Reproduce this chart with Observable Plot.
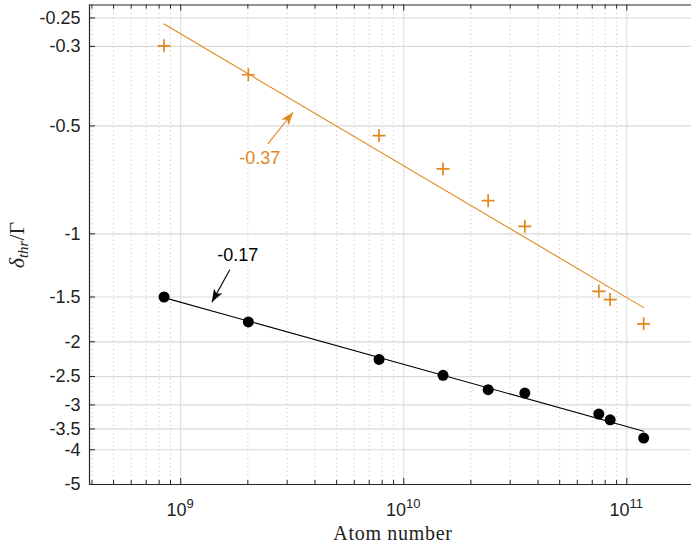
<!DOCTYPE html>
<html><head><meta charset="utf-8">
<script src="https://cdn.jsdelivr.net/npm/d3@7"></script>
<script src="https://cdn.jsdelivr.net/npm/@observablehq/plot@0.6"></script>
<style>body{margin:0;background:#fff} #chart svg{display:block}</style>
</head><body><div id="chart"></div>
<script>
// ---- data ----
const atomNumber   = [8.42e8, 2.01e9, 7.75e9, 1.50e10, 2.39e10, 3.49e10, 7.49e10, 8.42e10, 1.19e11];
const deltaCircles = [-1.50, -1.76, -2.24, -2.48, -2.72, -2.78, -3.18, -3.30, -3.71];
const deltaCrosses = [-0.299, -0.360, -0.532, -0.659, -0.808, -0.953, -1.446, -1.525, -1.782];
const fitAtomNumber = [8.42e8, 1.19e11];
const fitCircles    = [-1.506, -3.55];
const fitCrosses    = [-0.260, -1.606];
const yTickValues = [-0.25, -0.3, -0.5, -1, -1.5, -2, -2.5, -3, -3.5, -4, -5];
const xMajorTicks = [1e9, 1e10, 1e11];
const xExponents  = ["9", "10", "11"];
const xMinorTicks = [4e8,5e8,6e8,7e8,8e8,9e8, 2e9,3e9,4e9,5e9,6e9,7e9,8e9,9e9, 2e10,3e10,4e10,5e10,6e10,7e10,8e10,9e10];
const slopeLabels = ["-0.37", "-0.17"];
const labelX  = [2.26e9, 1.80e9];
const labelY  = [-0.617, -1.15];
const arrowX1 = [2.46e9, 1.66e9];
const arrowY1 = [-0.561, -1.26];
const arrowX2 = [3.19e9, 1.38e9];
const arrowY2 = [-0.458, -1.55];
const xDomain = [3.9e8, 1.95e11];
const yDomain = [-5, -0.23];

// ---- styling ----
const ORANGE = "#e1871d";
const AXIS = "#262626";
const W = 691, H = 548, mL = 89, mT = 4.5, mB = 64, mR = 0;
const innerH = H - mT - mB, innerW = W - mL - mR;

const circles = atomNumber.map((x, i) => ({x, y: deltaCircles[i]}));
const crosses = atomNumber.map((x, i) => ({x, y: deltaCrosses[i]}));
const fitC = fitAtomNumber.map((x, i) => ({x, y: fitCircles[i]}));
const fitX = fitAtomNumber.map((x, i) => ({x, y: fitCrosses[i]}));
const annots = slopeLabels.map((t, i) => ({t, x: labelX[i], y: labelY[i], x1: arrowX1[i], y1: arrowY1[i], x2: arrowX2[i], y2: arrowY2[i]}));

const plusSym = {draw(ctx, size) { const r = Math.sqrt(size / Math.PI); ctx.moveTo(-r, 0); ctx.lineTo(r, 0); ctx.moveTo(0, -r); ctx.lineTo(0, r); }};
function filledArrow(color) {
  return d3.create("svg:marker")
    .attr("viewBox", "-13 -5 13 10").attr("markerWidth", 13).attr("markerHeight", 10)
    .attr("markerUnits", "userSpaceOnUse").attr("refX", 0).attr("refY", 0).attr("orient", "auto")
    .call(m => m.append("path").attr("d", "M0,0L-13,-4.8L-9.5,0L-13,4.8Z").attr("fill", color).attr("stroke", "none"))
    .node();
}

const chart = Plot.plot({
  width: W, height: H, marginLeft: mL, marginTop: mT, marginBottom: mB, marginRight: mR,
  style: {fontFamily: "Liberation Sans, Arial, sans-serif", fontSize: "18px", background: "#fff"},
  x: {type: "log", domain: xDomain, axis: null},
  y: {type: "log", domain: yDomain, axis: null},
  marks: [
    Plot.ruleX(xMinorTicks, {stroke: "#c8c8c8", strokeDasharray: "1.2,3"}),
    Plot.ruleX(xMajorTicks, {stroke: "#dadada"}),
    Plot.ruleY(yTickValues, {stroke: "#dadada", strokeWidth: 1.2}),
    // axis tick marks (inward), bottom/top/left
    Plot.ruleX(xMajorTicks, {stroke: AXIS, insetTop: innerH - 6}),
    Plot.ruleX(xMinorTicks, {stroke: AXIS, insetTop: innerH - 4}),
    Plot.ruleX(xMajorTicks, {stroke: AXIS, insetBottom: innerH - 6}),
    Plot.ruleX(xMinorTicks, {stroke: AXIS, insetBottom: innerH - 4}),
    Plot.ruleY(yTickValues, {stroke: AXIS, insetRight: innerW - 6}),
    // frame lines
    Plot.ruleX([xDomain[0]], {stroke: AXIS, strokeWidth: 1.2}),
    Plot.ruleY([yDomain[0]], {stroke: AXIS, strokeWidth: 1.2}),
    Plot.ruleY([yDomain[1]], {stroke: AXIS, strokeWidth: 1.2}),
    Plot.axisY({ticks: yTickValues, tickSize: 0, tickPadding: 9, tickFormat: d => String(d), fontSize: 18, label: null, fill: "#222"}),
    // fits
    Plot.line(fitX, {x: "x", y: "y", stroke: ORANGE, strokeWidth: 1.1}),
    Plot.line(fitC, {x: "x", y: "y", stroke: "black", strokeWidth: 1.1}),
    // data
    Plot.dot(crosses, {x: "x", y: "y", r: 6.5, symbol: plusSym, stroke: ORANGE, strokeWidth: 1.7, fill: "none"}),
    Plot.dot(circles, {x: "x", y: "y", r: 5.5, fill: "black", stroke: "none"}),
    // annotations
    Plot.link([annots[0]], {x1: "x1", y1: "y1", x2: "x2", y2: "y2", stroke: ORANGE, strokeWidth: 1.1, markerEnd: filledArrow}),
    Plot.link([annots[1]], {x1: "x1", y1: "y1", x2: "x2", y2: "y2", stroke: "black", strokeWidth: 1.1, markerEnd: filledArrow}),
    Plot.text([annots[0]], {x: "x", y: "y", text: "t", fill: ORANGE, fontSize: 18}),
    Plot.text([annots[1]], {x: "x", y: "y", text: "t", fill: "black", fontSize: 18})
  ]
});
document.getElementById("chart").appendChild(chart);

// x tick labels 10^n, placed through the plot's x scale
const xs = chart.scale("x");
const svg = d3.select(chart);
xMajorTicks.forEach((v, i) => {
  const t = svg.append("text").attr("x", xs.apply(v)).attr("y", 516)
    .attr("text-anchor", "middle").attr("fill", "#222")
    .style("font-family", "Liberation Sans, Arial, sans-serif").style("font-size", "18px");
  t.append("tspan").text("10");
  t.append("tspan").attr("dy", -8).style("font-size", "13px").text(xExponents[i]);
});
// axis titles
svg.append("text").attr("x", 393).attr("y", 540).attr("text-anchor", "middle").attr("fill", "#222")
  .style("font-family", "Liberation Serif, serif").style("font-size", "20px").style("letter-spacing", "0.7px")
  .text("Atom number");
const yl = svg.append("text").attr("transform", "translate(24,245) rotate(-90)").attr("text-anchor", "middle").attr("fill", "#222")
  .style("font-family", "Liberation Serif, serif").style("font-size", "22px");
yl.append("tspan").style("font-style", "italic").text("δ");
yl.append("tspan").attr("dy", 4).style("font-style", "italic").style("font-size", "15px").text("thr");
yl.append("tspan").attr("dy", -4).text("/Γ");
</script></body></html>
